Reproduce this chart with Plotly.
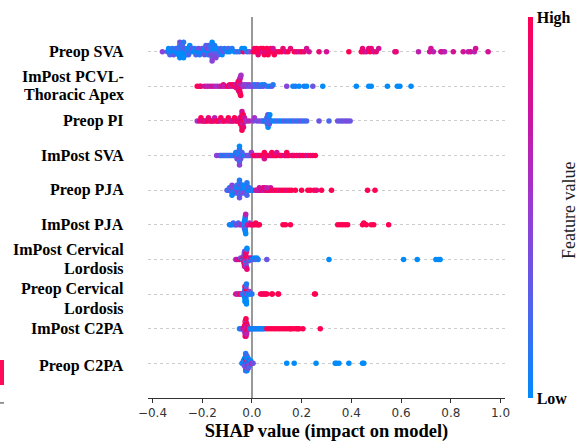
import numpy as np
import plotly.graph_objects as go

# Feature names (label lines), top to bottom
features = [
    ["Preop SVA"], ["ImPost PCVL-", "Thoracic Apex"], ["Preop PI"], ["ImPost SVA"],
    ["Preop PJA"], ["ImPost PJA"], ["ImPost Cervical", "Lordosis"],
    ["Preop Cervical", "Lordosis"], ["ImPost C2PA"], ["Preop C2PA"],
]

# SHAP values and feature-value levels (0 = low ... 9 = high), per feature
preop_sva_shap = [
    -0.36, -0.34, -0.335, -0.33, -0.325, -0.32, -0.315, -0.31, -0.305, -0.30,
    -0.30, -0.295, -0.29, -0.29, -0.29, -0.285, -0.285, -0.28, -0.28, -0.275,
    -0.275, -0.27, -0.27, -0.265, -0.26, -0.26, -0.255, -0.25, -0.245, -0.24,
    -0.235, -0.23, -0.225, -0.22, -0.215, -0.21, -0.205, -0.20, -0.195, -0.19,
    -0.19, -0.185, -0.18, -0.18, -0.175, -0.175, -0.17, -0.17, -0.165, -0.165,
    -0.16, -0.16, -0.16, -0.155, -0.155, -0.15, -0.15, -0.145, -0.14, -0.14,
    -0.135, -0.13, -0.125, -0.12, -0.115, -0.11, -0.10, -0.095, -0.09, -0.08,
    -0.07, -0.06, -0.05, -0.04, -0.035, -0.03, -0.02, -0.01,
    0.005, 0.01, 0.015, 0.02, 0.025, 0.03, 0.035, 0.04, 0.045, 0.05,
    0.055, 0.06, 0.065, 0.07, 0.075, 0.08, 0.085, 0.09, 0.10, 0.11,
    0.12, 0.125, 0.135, 0.145, 0.155, 0.17, 0.18, 0.19, 0.20, 0.21,
    0.22, 0.23, 0.27, 0.30, 0.39,
    0.44, 0.445, 0.45, 0.46, 0.47, 0.475, 0.48, 0.49, 0.50, 0.51,
    0.575, 0.58, 0.67, 0.715, 0.72, 0.73, 0.76, 0.765, 0.775, 0.81,
    0.85, 0.87, 0.88, 0.895, 0.90, 0.95,
]
preop_sva_fv = [
    4, 1, 0, 2, 0, 1, 3, 0, 1, 0,
    2, 0, 1, 0, 3, 0, 1, 0, 2, 0,
    1, 0, 3, 0, 1, 0, 2, 0, 1, 3,
    0, 1, 2, 0, 3, 1, 0, 4, 1, 0,
    3, 2, 0, 4, 1, 3, 0, 2, 4, 1,
    3, 0, 4, 2, 0, 3, 1, 4, 2, 0,
    3, 1, 2, 0, 3, 1, 0, 2, 0, 1,
    0, 2, 1, 0, 8, 0, 1, 3,
    9, 8, 9, 9, 8, 9, 9, 7, 9, 9,
    8, 9, 9, 8, 9, 9, 7, 9, 8, 9,
    9, 8, 7, 9, 8, 9, 8, 7, 9, 8,
    7, 7, 8, 7, 9,
    9, 8, 8, 7, 8, 9, 8, 7, 8, 7,
    7, 8, 6, 7, 7, 6, 7, 7, 6, 7,
    7, 6, 7, 6, 7, 7,
]

impost_pcvl_shap = [
    -0.22, -0.21, -0.205, -0.19, -0.18, -0.17, -0.16, -0.15, -0.14, -0.13,
    -0.12, -0.115, -0.11, -0.10, -0.095, -0.09, -0.085, -0.08, -0.075, -0.07,
    -0.068, -0.065, -0.063, -0.06, -0.06, -0.058, -0.056, -0.055, -0.055, -0.053,
    -0.052, -0.05, -0.05, -0.05, -0.05, -0.05, -0.05, -0.05, -0.048, -0.048,
    -0.047, -0.046, -0.045, -0.044, -0.042, -0.04, -0.035, -0.03, -0.025, -0.02,
    -0.015, -0.01, -0.005, 0.0, 0.005, 0.01, 0.015, 0.02, 0.025, 0.03,
    0.035, 0.04, 0.045, 0.05, 0.06, 0.07, 0.08, 0.085, 0.14, 0.165,
    0.175, 0.19, 0.21, 0.22, 0.245, 0.285, 0.42, 0.47, 0.48, 0.545,
    0.585, 0.595, 0.64,
]
impost_pcvl_fv = [
    9, 9, 8, 7, 6, 6, 7, 6, 5, 6,
    7, 8, 6, 7, 9, 8, 6, 9, 7, 8,
    9, 6, 8, 9, 7, 8, 9, 6, 9, 8,
    7, 9, 8, 6, 9, 7, 8, 9, 9, 7,
    8, 6, 9, 5, 7, 6, 5, 4, 5, 4,
    3, 5, 3, 4, 2, 3, 1, 2, 3, 1,
    2, 0, 3, 1, 2, 0, 3, 1, 4, 0,
    1, 0, 1, 0, 3, 0, 0, 0, 0, 0,
    0, 0, 0,
]

preop_pi_shap = [
    -0.22, -0.21, -0.205, -0.2, -0.195, -0.19, -0.185, -0.18, -0.175, -0.17,
    -0.165, -0.16, -0.155, -0.15, -0.145, -0.14, -0.135, -0.13, -0.125, -0.12,
    -0.115, -0.11, -0.10, -0.095, -0.09, -0.085, -0.08, -0.075, -0.07, -0.065,
    -0.06, -0.055, -0.05, -0.048, -0.046, -0.044, -0.042, -0.04, -0.04, -0.04,
    -0.04, -0.04, -0.038, -0.038, -0.036, -0.035, -0.034, -0.032, -0.03, -0.025,
    -0.02, -0.01, 0.005, 0.01, 0.02, 0.03, 0.04, 0.045, 0.05, 0.055,
    0.06, 0.06, 0.062, 0.064, 0.065, 0.066, 0.068, 0.07, 0.072, 0.075,
    0.08, 0.09, 0.10, 0.11, 0.12, 0.13, 0.14, 0.15, 0.16, 0.17,
    0.18, 0.19, 0.20, 0.21, 0.22, 0.27, 0.31, 0.345, 0.355, 0.365,
    0.375, 0.385, 0.395,
]
preop_pi_fv = [
    5, 8, 9, 7, 9, 8, 6, 9, 8, 9,
    7, 9, 8, 6, 9, 8, 9, 7, 9, 8,
    6, 9, 8, 9, 7, 9, 6, 8, 9, 7,
    9, 8, 9, 7, 9, 8, 9, 9, 8, 9,
    7, 9, 8, 9, 6, 9, 8, 9, 7, 6,
    5, 6, 4, 5, 3, 4, 2, 3, 1, 4,
    0, 2, 1, 3, 0, 2, 1, 3, 0, 2,
    1, 0, 2, 1, 0, 3, 1, 2, 0, 3,
    1, 2, 3, 1, 2, 3, 2, 3, 3, 3,
    3, 4, 3,
]

impost_sva_shap = [
    -0.142, -0.13, -0.125, -0.12, -0.115, -0.11, -0.105, -0.1, -0.095, -0.09,
    -0.085, -0.08, -0.075, -0.07, -0.065, -0.065, -0.06, -0.06, -0.06, -0.055,
    -0.055, -0.055, -0.05, -0.05, -0.05, -0.05, -0.05, -0.05, -0.05, -0.045,
    -0.045, -0.045, -0.04, -0.04, -0.035, -0.03, -0.025, -0.02, -0.015, -0.01,
    -0.005, -0.002,
    0.005, 0.01, 0.015, 0.02, 0.025, 0.03, 0.035, 0.04, 0.045, 0.05,
    0.05, 0.05, 0.055, 0.06, 0.065, 0.07, 0.075, 0.08, 0.08, 0.085,
    0.09, 0.095, 0.10, 0.10, 0.11, 0.115, 0.12, 0.13, 0.135, 0.14,
    0.14, 0.145, 0.15, 0.16, 0.165, 0.17, 0.18, 0.19, 0.195, 0.205,
    0.215, 0.225, 0.235, 0.245, 0.255,
]
impost_sva_fv = [
    4, 5, 3, 0, 4, 1, 3, 0, 2, 1,
    3, 0, 2, 1, 4, 0, 2, 1, 3, 0,
    2, 4, 1, 0, 3, 2, 1, 0, 4, 2,
    0, 3, 1, 2, 4, 0, 3, 1, 4, 2,
    3, 5,
    7, 9, 8, 9, 7, 9, 8, 9, 9, 8,
    9, 7, 9, 8, 9, 9, 8, 7, 9, 8,
    9, 8, 9, 7, 9, 8, 9, 7, 9, 8,
    9, 8, 9, 7, 9, 8, 9, 7, 8, 9,
    8, 7, 9, 8, 9,
]

preop_pja_shap = [
    -0.10, -0.095, -0.09, -0.09, -0.085, -0.085, -0.08, -0.08, -0.08, -0.075,
    -0.075, -0.07, -0.07, -0.07, -0.065, -0.065, -0.065, -0.06, -0.06, -0.06,
    -0.06, -0.055, -0.055, -0.055, -0.055, -0.05, -0.05, -0.05, -0.05, -0.045,
    -0.045, -0.045, -0.045, -0.04, -0.04, -0.04, -0.04, -0.035, -0.035, -0.035,
    -0.035, -0.03, -0.03, -0.03, -0.025, -0.025, -0.025, -0.02, -0.02, -0.02,
    -0.015, -0.015, -0.01, -0.01, -0.005, 0.0, 0.005,
    0.015, 0.02, 0.025, 0.03, 0.035, 0.04, 0.045, 0.05, 0.055, 0.06,
    0.065, 0.07, 0.075, 0.08, 0.09, 0.10, 0.11, 0.12, 0.13, 0.14,
    0.15, 0.16, 0.175, 0.20, 0.225, 0.235, 0.25, 0.26, 0.28, 0.32,
    0.465, 0.495, 0.03, 0.05, 0.06,
]
preop_pja_fv = [
    3, 1, 4, 0, 2, 3, 1, 4, 0, 2,
    3, 0, 4, 1, 2, 0, 3, 4, 1, 0,
    2, 3, 0, 4, 1, 2, 0, 3, 1, 4,
    0, 2, 3, 1, 0, 4, 2, 0, 3, 1,
    0, 2, 0, 4, 1, 0, 3, 0, 2, 1,
    0, 3, 0, 1, 0, 2, 0,
    6, 7, 6, 7, 6, 8, 7, 6, 8, 7,
    9, 8, 7, 9, 8, 9, 8, 9, 9, 8,
    9, 9, 9, 9, 9, 9, 9, 8, 9, 9,
    9, 9, 7, 8, 6,
]

impost_pja_shap = [
    -0.09, -0.085, -0.08, -0.075, -0.07, -0.065, -0.06, -0.055, -0.05, -0.045,
    -0.04, -0.035, -0.032, -0.03, -0.03, -0.03, -0.029, -0.029, -0.028, -0.028,
    -0.028, -0.028, -0.027, -0.027, -0.026, -0.026, -0.025, -0.025, -0.02, -0.015,
    -0.01, -0.005, 0.0, 0.005, 0.01, 0.015, 0.02, 0.025, 0.03, 0.125,
    0.135, 0.155, 0.345, 0.355, 0.365, 0.375, 0.385, 0.445, 0.45, 0.46,
    0.48, 0.49, 0.55,
]
impost_pja_fv = [
    0, 1, 0, 2, 0, 3, 4, 2, 5, 3,
    6, 4, 1, 0, 0, 2, 0, 1, 0, 0,
    3, 0, 1, 0, 0, 2, 0, 6, 4, 7,
    5, 8, 9, 8, 9, 9, 8, 9, 9, 9,
    9, 9, 9, 9, 9, 9, 9, 9, 9, 9,
    9, 9, 9,
]

impost_cl_shap = [
    -0.065, -0.06, -0.05, -0.045, -0.04, -0.038, -0.036, -0.035, -0.034, -0.033,
    -0.032, -0.031, -0.03, -0.03, -0.03, -0.03, -0.029, -0.029, -0.028, -0.028,
    -0.027, -0.027, -0.026, -0.026, -0.025, -0.025, -0.024, -0.024, -0.023, -0.022,
    -0.022, -0.021, -0.02, -0.02, -0.018, -0.015, -0.012, -0.01, -0.005, 0.0,
    0.005, 0.01, 0.015, 0.02, 0.025, 0.06, 0.31, 0.61, 0.665, 0.74,
    0.75, 0.757,
]
impost_cl_fv = [
    5, 7, 8, 3, 9, 5, 0, 8, 4, 9,
    6, 2, 8, 0, 9, 5, 7, 3, 9, 1,
    6, 8, 4, 9, 0, 7, 5, 8, 2, 9,
    6, 3, 8, 0, 6, 9, 4, 1, 7, 0,
    3, 0, 2, 0, 1, 3, 0, 0, 0, 0,
    0, 0,
]

preop_cl_shap = [
    -0.065, -0.06, -0.055, -0.05, -0.045, -0.04, -0.035, -0.03, -0.03, -0.03,
    -0.028, -0.028, -0.028, -0.028, -0.028, -0.028, -0.028, -0.024, -0.024, -0.024,
    -0.024, -0.024, -0.024, -0.022, -0.022, -0.022, -0.02, -0.018, -0.015, -0.012,
    -0.01, -0.005, 0.0, 0.035, 0.04, 0.045, 0.05, 0.055, 0.06, 0.08,
    0.082, 0.105, 0.107, 0.252, 0.255,
]
preop_cl_fv = [
    6, 8, 5, 7, 9, 4, 0, 2, 0, 1,
    0, 3, 0, 1, 0, 8, 0, 2, 0, 1,
    9, 0, 3, 0, 1, 0, 6, 0, 2, 0,
    4, 0, 1, 9, 9, 9, 8, 9, 9, 9,
    9, 9, 9, 9, 9,
]

impost_c2pa_shap = [
    -0.05, -0.045, -0.04, -0.035, -0.03, -0.03, -0.03, -0.027, -0.027, -0.027,
    -0.027, -0.027, -0.027, -0.027, -0.024, -0.024, -0.024, -0.024, -0.024, -0.024,
    -0.024, -0.024, -0.021, -0.021, -0.021, -0.021, -0.021, -0.018, -0.018, -0.015,
    -0.01, -0.008, -0.005, 0.0, 0.005, 0.01, 0.015, 0.02, 0.025, 0.03,
    0.035, 0.04, 0.045, 0.05, 0.06, 0.07, 0.08, 0.09, 0.10, 0.11,
    0.12, 0.13, 0.14, 0.15, 0.155, 0.16, 0.17, 0.18, 0.185, 0.19,
    0.205, 0.275,
]
impost_c2pa_fv = [
    0, 1, 3, 8, 6, 9, 5, 7, 8, 4,
    9, 6, 8, 9, 5, 7, 8, 9, 6, 4,
    8, 9, 7, 5, 8, 9, 6, 8, 7, 9,
    5, 3, 1, 0, 1, 0, 0, 2, 0, 1,
    0, 0, 2, 0, 9, 9, 9, 9, 9, 9,
    9, 9, 9, 9, 9, 9, 9, 9, 9, 9,
    9, 9,
]

preop_c2pa_shap = [
    -0.04, -0.037, -0.034, -0.03, -0.03, -0.03, -0.03, -0.025, -0.025, -0.025,
    -0.025, -0.025, -0.025, -0.025, -0.025, -0.02, -0.02, -0.02, -0.02, -0.02,
    -0.02, -0.02, -0.015, -0.015, -0.015, -0.015, -0.015, -0.01, -0.01, -0.01,
    -0.005, -0.005, 0.0, 0.005, 0.14, 0.17, 0.258, 0.335, 0.34, 0.35,
    0.39, 0.445, 0.45,
]
preop_c2pa_fv = [
    2, 0, 4, 1, 0, 3, 0, 6, 1, 0,
    9, 2, 0, 4, 1, 0, 8, 3, 0, 5,
    2, 0, 4, 1, 6, 0, 3, 0, 5, 2,
    4, 0, 6, 3, 0, 0, 0, 0, 0, 0,
    0, 0, 0,
]

shap_lists = [preop_sva_shap, impost_pcvl_shap, preop_pi_shap, impost_sva_shap,
              preop_pja_shap, impost_pja_shap, impost_cl_shap, preop_cl_shap,
              impost_c2pa_shap, preop_c2pa_shap]
fv_lists = [preop_sva_fv, impost_pcvl_fv, preop_pi_fv, impost_sva_fv,
            preop_pja_fv, impost_pja_fv, impost_cl_fv, preop_cl_fv,
            impost_c2pa_fv, preop_c2pa_fv]

x_tick_vals = [-0.4, -0.2, 0.0, 0.2, 0.4, 0.6, 0.8, 1.0]
x_tick_text = ["\u22120.4", "\u22120.2", "0.0", "0.2", "0.4", "0.6", "0.8", "1.0"]
colorbar_labels = ["Low", "High"]

colorscale = [[0.0, "#008bfb"], [0.25, "#5361ec"], [0.5, "#9a3ad2"],
              [0.75, "#cc13a0"], [1.0, "#ff0052"]]

SERIF = "Liberation Serif, Times New Roman, serif"


def swarm_offsets(vals, nbins=100, row_height=0.4):
    """SHAP-style beeswarm stacking of points with similar values."""
    vals = np.asarray(vals, float)
    quant = np.round(nbins * (vals - vals.min()) / (vals.max() - vals.min() + 1e-8))
    order = np.argsort(quant, kind="stable")
    ys = np.zeros(len(vals))
    layer, last = 0, None
    for i in order:
        if quant[i] != last:
            layer = 0
        ys[i] = np.ceil(layer / 2) * ((layer % 2) * 2 - 1)
        layer += 1
        last = quant[i]
    ys *= 0.9 * (row_height / np.max(ys + 1))
    return ys


fig = go.Figure()
n = len(features)
for i, (s, c) in enumerate(zip(shap_lists, fv_lists)):
    if len(s) != len(c):
        raise ValueError(f"length mismatch for row {i}: {len(s)} vs {len(c)}")
    pos = n - 1 - i
    yoff = swarm_offsets(s)
    marker = dict(size=5.5, color=np.array(c) / 9.0, colorscale=colorscale,
                  cmin=0, cmax=1, line=dict(width=0))
    if i == 0:
        marker.update(showscale=True, colorbar=dict(
            thickness=5, len=1, lenmode="fraction", y=0.5, yanchor="middle",
            x=1.064, xanchor="left", xpad=0, ypad=0, outlinewidth=0,
            tickvals=[0, 1], ticktext=colorbar_labels, ticks="",
            tickfont=dict(family=SERIF, size=16, color="black", weight="bold"),
        ))
    else:
        marker.update(showscale=False)
    fig.add_trace(go.Scatter(x=s, y=pos + yoff, mode="markers", marker=marker,
                             showlegend=False, hoverinfo="skip"))

# Feature-name labels (drawn as right-aligned text beside each row)
annotations = []
special_shift = {7: [-5, 14]}
for i, lines in enumerate(features):
    pos = n - 1 - i
    if len(lines) == 1:
        shifts = [3 if i == n - 1 else 0]
    else:
        shifts = special_shift.get(i, [-10, 9])
    for line, sh in zip(lines, shifts):
        annotations.append(dict(
            text=line, xref="paper", yref="y", x=-0.0616, y=pos, yshift=-sh,
            xanchor="right", yanchor="middle", showarrow=False,
            font=dict(family=SERIF, size=16, color="black", weight="bold"),
        ))
annotations.append(dict(
    text="Feature value", xref="paper", yref="paper", x=1.179, y=0.493,
    textangle=-90, showarrow=False, xanchor="center", yanchor="middle",
    font=dict(family=SERIF, size=18, color="#222222"),
))

fig.update_layout(
    width=580, height=442,
    margin=dict(l=148, r=75, t=17, b=44, autoexpand=False),
    paper_bgcolor="white", plot_bgcolor="white",
    xaxis=dict(
        range=[-0.418, 1.018], tickvals=x_tick_vals, ticktext=x_tick_text,
        automargin=False,
        showgrid=False, zeroline=True, zerolinecolor="#999999", zerolinewidth=1.5,
        showline=True, linecolor="#333333", linewidth=1,
        ticks="outside", ticklen=4, tickcolor="#333333",
        tickfont=dict(family="DejaVu Sans", size=12, color="#333333"),
        title=dict(text="SHAP value (impact on model)", standoff=5,
                   font=dict(family=SERIF, size=18.5, color="black", weight="bold")),
    ),
    yaxis=dict(
        range=[-1, n], tickvals=list(range(n)), showticklabels=False,
        automargin=False,
        showgrid=True, gridcolor="#cccccc", gridwidth=1, griddash="dot",
        zeroline=False, showline=False, ticks="",
    ),
    annotations=annotations,
    shapes=[
        dict(type="rect", xref="paper", yref="paper", x0=-0.4146, x1=-0.4034,
             y0=0.034, y1=0.0997, fillcolor="#ff0a5a", line=dict(width=0)),
        dict(type="line", xref="paper", yref="paper", x0=-0.4146, x1=-0.4034,
             y0=-0.013, y1=-0.013, line=dict(color="#333333", width=1)),
    ],
)

fig.write_html("out.html", config={"displayModeBar": False},
               post_script="document.body.style.margin='0px';document.body.style.padding='0px';")
